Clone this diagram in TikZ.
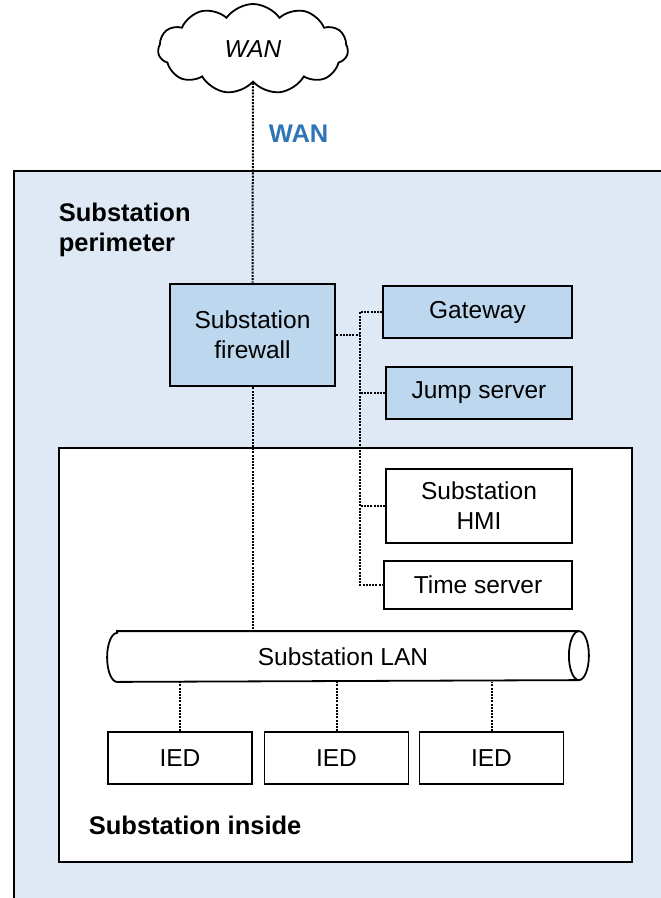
\documentclass[tikz,border=0pt]{standalone}
\usepackage{fontspec}
\setmainfont{Liberation Sans}
\usepackage{xcolor}
\usetikzlibrary{shapes.symbols}

\definecolor{perimfill}{HTML}{DEE9F5}
\definecolor{boxfill}{HTML}{BDD7EE}
\definecolor{wanblue}{HTML}{2E75B6}

\begin{document}
\begin{tikzpicture}[x=1pt, y=-1pt, line width = 1.8pt,
  every node/.style={font=\fontsize{24.5}{30}\selectfont, inner sep=0pt},
  unit/.style={draw, fill=white, align=center},
  blueunit/.style={unit, fill=boxfill},
  link/.style={dash pattern=on 2pt off 1.2pt, line width=2pt},
  heading/.style={font=\fontsize{25.5}{30}\selectfont\bfseries, align=left}
]
\useasboundingbox (0,0) rectangle (661,898);
\clip (0,0) rectangle (661,898);

% zones
\draw[fill=perimfill, line width=2.6pt] (14,171) rectangle (700,960);
\draw[fill=white] (59,448) rectangle (632,862);

\node[heading, anchor=north west] (perim) at (58,202) {Substation\\perimeter};
\node[heading, anchor=base west] (inside) at (88,834) {Substation inside};

% wan
\node[cloud, draw, fill=white, cloud puffs=11, cloud puff arc=110, aspect=2.3,
      minimum width=190, minimum height=90, font=\fontsize{24.5}{30}\selectfont\itshape]
      (cloud) at (253,49) {WAN};
\node[font=\fontsize{25.5}{30}\selectfont\bfseries, text=wanblue, anchor=base west]
      (wanlbl) at (268,142) {WAN};

% perimeter devices
\node[blueunit, line width=2.9pt, minimum width=165, minimum height=102] (fw) at (252.5,335) {Substation\\firewall};
\node[blueunit, minimum width=189, minimum height=52] (gw) at (477.5,312) {Gateway};
\node[blueunit, minimum width=186, minimum height=52] (js) at (479,393) {Jump server};

% inside devices
\node[unit, minimum width=186, minimum height=74] (hmi) at (479,506) {Substation\\HMI};
\node[unit, minimum width=188, minimum height=48] (ts) at (478,585) {Time server};

% lan pipe
\node[minimum width=470, minimum height=49] (lan) at (343,656.5) {Substation LAN};
\draw ([xshift=10pt]lan.north west) -- (lan.north east)
      arc[start angle=90, end angle=-90, x radius=10pt, y radius=24.5pt]
      -- ([xshift=10pt]lan.south west)
      arc[start angle=270, end angle=90, x radius=10pt, y radius=24.5pt] -- cycle;
\draw (lan.north east) arc[start angle=90, end angle=270, x radius=10pt, y radius=24.5pt];

\node[unit, minimum width=144, minimum height=52] (ied1) at (180,758) {IED};
\node[unit, minimum width=144, minimum height=52] (ied2) at (336.5,758) {IED};
\node[unit, minimum width=144, minimum height=52] (ied3) at (491.5,758) {IED};

% links
\coordinate (bt) at (360,312);
\coordinate (bb) at (360,585);

\draw[link] (cloud.south) -- (fw.north);
\draw[link] (fw.south) -- (fw.south |- lan.north);
\draw[link] (fw.east) -- (fw.east -| bt);
\draw[link] (gw.west) -- (bt) -- (bb) -- (ts.west);
\draw[link] (js.west) -- (js.west -| bt);
\draw[link] (hmi.west) -- (hmi.west -| bt);

\draw[link] (ied1.north) -- (ied1.north |- lan.south);
\draw[link] (ied2.north) -- (ied2.north |- lan.south);
\draw[link] (ied3.north) -- (ied3.north |- lan.south);

\end{tikzpicture}
\end{document}
